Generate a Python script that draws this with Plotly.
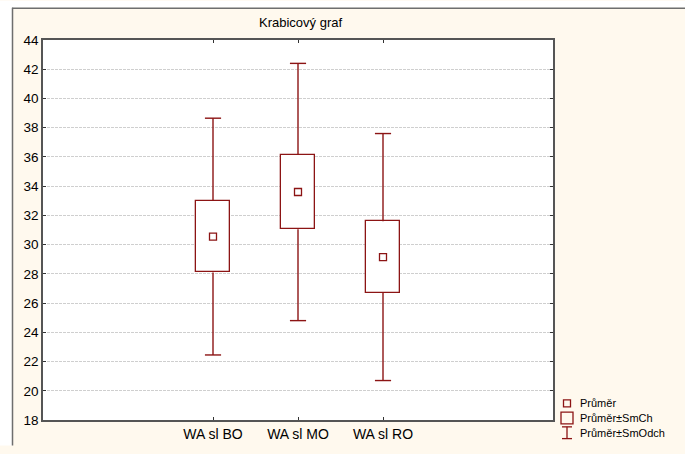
import plotly.graph_objects as go

# Box plot: mean, mean ± standard error, mean ± standard deviation
categories = ["WA sl BO", "WA sl MO", "WA sl RO"]
means = [30.55, 33.6, 29.15]
std_err = [2.45, 2.55, 2.45]
std_dev = [8.1, 8.8, 8.45]

y_ticks = list(range(18, 45, 2))

MAROON = "#8C1414"
CREAM = "#FFF9EE"
FONT = "Liberation Sans, Arial, sans-serif"
BOX_W = 0.39
CAP_W = 0.19

pos = list(range(len(categories)))
box_low = [m - s for m, s in zip(means, std_err)]
box_high = [m + s for m, s in zip(means, std_err)]
box_span = [2 * s for s in std_err]
wh_low = [m - d for m, d in zip(means, std_dev)]
wh_high = [m + d for m, d in zip(means, std_dev)]

fig = go.Figure()

# mean ± SE boxes
fig.add_trace(go.Bar(
    x=pos, y=box_span, base=box_low, width=BOX_W,
    marker=dict(color="white", line=dict(color=MAROON, width=1.3)),
    showlegend=False, hoverinfo="skip",
))

# whiskers from the box edges out to mean ± SD, with end caps
wx, wy = [], []
for p, lo, hi, wl, wh in zip(pos, box_low, box_high, wh_low, wh_high):
    wx += [p, p, None, p, p, None,
           p - CAP_W / 2, p + CAP_W / 2, None, p - CAP_W / 2, p + CAP_W / 2, None]
    wy += [hi, wh, None, lo, wl, None, wh, wh, None, wl, wl, None]
fig.add_trace(go.Scatter(
    x=wx, y=wy, mode="lines", line=dict(color=MAROON, width=1.4),
    showlegend=False, hoverinfo="skip",
))

# mean markers
fig.add_trace(go.Scatter(
    x=pos, y=means, mode="markers",
    marker=dict(symbol="square-open", size=7, color=MAROON, line=dict(width=1.3)),
    showlegend=False,
))

W, H = 685, 454
L, R, T, B = 43, 132, 40, 26
pw, ph = W - L - R, H - T - B


def px(x):
    return (x - L) / pw


def py(y):
    return (H - B - y) / ph


shapes = [
    # white strips outside the framed panel
    dict(type="rect", xref="paper", yref="paper", x0=px(0), x1=px(W), y0=py(7), y1=py(0),
         fillcolor="white", line=dict(width=0), layer="below"),
    dict(type="rect", xref="paper", yref="paper", x0=px(0), x1=px(12), y0=py(H), y1=py(0),
         fillcolor="white", line=dict(width=0), layer="below"),
    # panel frame
    dict(type="line", xref="paper", yref="paper", x0=px(12), x1=px(W), y0=py(7.5), y1=py(7.5),
         line=dict(color="#6E6E6E", width=1.5)),
    dict(type="line", xref="paper", yref="paper", x0=px(12.5), x1=px(12.5), y0=py(7), y1=py(H),
         line=dict(color="#6E6E6E", width=1.5)),
]

annotations = [
    dict(text="Krabicový graf", xref="paper", yref="paper", x=px(300), y=py(22),
         xanchor="center", yanchor="middle", showarrow=False,
         font=dict(size=13, color="black", family=FONT)),
]

# legend key
leg_x_sym = 567
leg_x_txt = 578
leg_rows = [411, 426, 441]
leg_labels = ["Průměr", "Průměr±SmCh", "Průměr±SmOdch"]
for yy, lab in zip(leg_rows, leg_labels):
    annotations.append(dict(text=lab, xref="paper", yref="paper", x=px(leg_x_txt), y=py(yy),
                            xanchor="left", yanchor="middle", showarrow=False,
                            font=dict(size=11, color="black", family=FONT)))
# small square
shapes.append(dict(type="rect", xref="paper", yref="paper",
                   x0=px(leg_x_sym - 3.5), x1=px(leg_x_sym + 3.5),
                   y0=py(leg_rows[0] + 3.5), y1=py(leg_rows[0] - 3.5),
                   line=dict(color=MAROON, width=1.3)))
# large square
shapes.append(dict(type="rect", xref="paper", yref="paper",
                   x0=px(leg_x_sym - 6), x1=px(leg_x_sym + 6),
                   y0=py(leg_rows[1] + 6), y1=py(leg_rows[1] - 6),
                   line=dict(color=MAROON, width=1.3)))
# whisker symbol
ly = leg_rows[2]
for seg in [((leg_x_sym, ly - 6), (leg_x_sym, ly + 6)),
            ((leg_x_sym - 5, ly - 6), (leg_x_sym + 5, ly - 6)),
            ((leg_x_sym - 5, ly + 6), (leg_x_sym + 5, ly + 6))]:
    (x0, y0), (x1, y1) = seg
    shapes.append(dict(type="line", xref="paper", yref="paper",
                       x0=px(x0), x1=px(x1), y0=py(y0), y1=py(y1),
                       line=dict(color=MAROON, width=1.3)))

fig.update_layout(
    width=W, height=H,
    margin=dict(l=L, r=R, t=T, b=B, pad=0),
    paper_bgcolor=CREAM, plot_bgcolor="white",
    font=dict(family=FONT, color="black"),
    shapes=shapes, annotations=annotations,
    showlegend=False, bargap=0,
)
fig.update_xaxes(
    range=[-2, 4], tickvals=pos, ticktext=categories, showgrid=False, zeroline=False,
    showline=True, linecolor="#555555", linewidth=1.5, mirror="ticks",
    ticks="inside", ticklen=3, tickcolor="#333333",
    tickfont=dict(size=14, family=FONT, color="black"),
    fixedrange=True,
)
fig.update_yaxes(
    range=[18, 44], tickvals=y_ticks, ticktext=[str(v) for v in y_ticks],
    showgrid=True, gridcolor="#CFCFCF", griddash="3px,1px", gridwidth=1,
    showline=True, linecolor="#555555", linewidth=1.5, mirror="ticks",
    ticks="inside", ticklen=3, tickcolor="#333333",
    tickfont=dict(size=13.5, family=FONT, color="black"),
    zeroline=False, fixedrange=True,
)

fig.write_html("out.html")
